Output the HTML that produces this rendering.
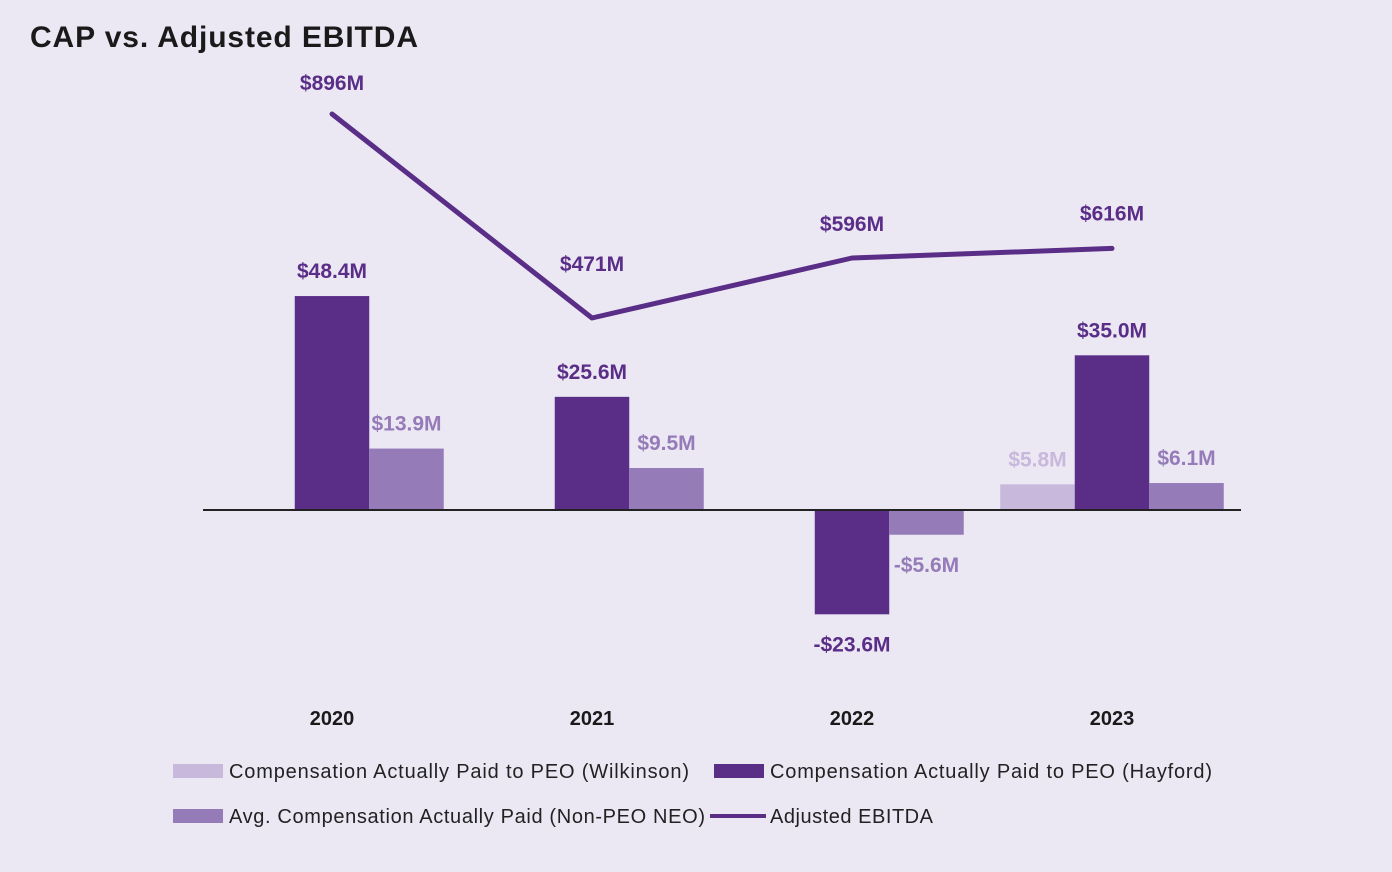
<!DOCTYPE html>
<html><head><meta charset="utf-8"><style>
body{margin:0;background:#ebe8f4;}
svg{display:block;font-family:"Liberation Sans",sans-serif;}
</style></head><body>
<svg id="chart" width="1392" height="872">
<rect width="1392" height="872" fill="#ebe8f4"/>
<text x="30" y="47" font-size="30" font-weight="bold" fill="#1a1a1a" textLength="388">CAP vs. Adjusted EBITDA</text>
<g id="bars"></g><g id="line"></g>
<line x1="203" y1="510" x2="1241" y2="510" stroke="#222" stroke-width="2"/>
<g>
<rect x="173" y="764" width="50" height="14" fill="#c8b8dc"/>
<text x="229" y="778" font-size="20" fill="#222" textLength="460">Compensation Actually Paid to PEO (Wilkinson)</text>
<rect x="714" y="764" width="50" height="14" fill="#5a2d87"/>
<text x="770" y="778" font-size="20" fill="#222" textLength="442">Compensation Actually Paid to PEO (Hayford)</text>
<rect x="173" y="809" width="50" height="14" fill="#957bb8"/>
<text x="229" y="823" font-size="20" fill="#222" textLength="476">Avg. Compensation Actually Paid (Non-PEO NEO)</text>
<line x1="710" y1="816" x2="766" y2="816" stroke="#5a2d87" stroke-width="4"/>
<text x="770" y="823" font-size="20" fill="#222" textLength="163">Adjusted EBITDA</text>
</g>
</svg>
<script>
const years=["2020","2021","2022","2023"];
const wilkinson=[null,null,null,5.8];
const hayford=[48.4,25.6,-23.6,35.0];
const neo=[13.9,9.5,-5.6,6.1];
const ebitda=[896,471,596,616];
const NS="http://www.w3.org/2000/svg";
const x0=332,step=260,bw=74.5;
const xc=i=>x0+i*step;
const yb=v=>510-v*4.42;
const yl=v=>318-(v-471)*0.48;
const bars=document.getElementById('bars'),lineG=document.getElementById('line'),svg=document.getElementById('chart');
function mk(tag,attrs,parent){const e=document.createElementNS(NS,tag);for(const k in attrs)e.setAttribute(k,attrs[k]);parent.appendChild(e);return e;}
const fmt=v=>(v<0?"-$":"$")+Math.abs(v).toFixed(1)+"M";
const series=[[wilkinson,"#c8b8dc",-1,"wilkinson"],[hayford,"#5a2d87",0,"hayford"],[neo,"#957bb8",1,"neo"]];
series.forEach(([arr,col,off,nm])=>{
 arr.forEach((v,i)=>{
  if(v===null)return;
  const x=xc(i)+off*bw-bw/2;
  const y=Math.min(yb(v),510),h=Math.abs(yb(v)-510);
  const r=mk('rect',{x:x,y:y,width:bw,height:h,fill:col},bars);
  
  
  const ty=v>=0?yb(v)-18:yb(v)+37;
  const t=mk('text',{x:x+bw/2,y:ty,'text-anchor':'middle','font-size':21,'font-weight':'bold',fill:col},bars);
  t.textContent=fmt(v);
  
  
 });
});
const pts=ebitda.map((v,i)=>xc(i)+','+yl(v)).join(' ');
const pl=mk('polyline',{points:pts,fill:'none',stroke:'#5a2d87','stroke-width':5,'stroke-linejoin':'round','stroke-linecap':'round'},lineG);


const labOff=[24,47,27,28];
ebitda.forEach((v,i)=>{
 const t=mk('text',{x:xc(i),y:yl(v)-labOff[i],'text-anchor':'middle','font-size':21,'font-weight':'bold',fill:'#5a2d87'},lineG);
 t.textContent='$'+v+'M';
 
 
});
years.forEach((y,i)=>{
 const t=mk('text',{x:xc(i),y:725,'text-anchor':'middle','font-size':20,'font-weight':'bold',fill:'#1a1a1a'},svg);
 t.textContent=y;
 
 
});
</script>
</body></html>
